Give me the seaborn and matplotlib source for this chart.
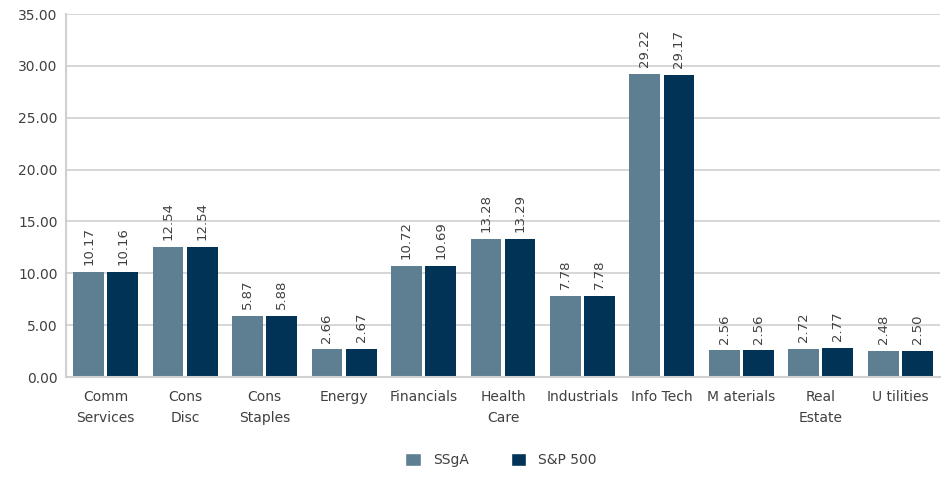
import matplotlib
matplotlib.use("Agg")
import matplotlib.pyplot as plt
import seaborn as sns
import pandas as pd
from matplotlib.patches import Patch

categories = ["Comm\nServices", "Cons\nDisc", "Cons\nStaples", "Energy", "Financials",
              "Health\nCare", "Industrials", "Info Tech", "M aterials", "Real\nEstate", "U tilities"]
ssga = [10.17, 12.54, 5.87, 2.66, 10.72, 13.28, 7.78, 29.22, 2.56, 2.72, 2.48]
sp500 = [10.16, 12.54, 5.88, 2.67, 10.69, 13.29, 7.78, 29.17, 2.56, 2.77, 2.50]
series = ["SSgA", "S&P 500"]
colors = ["#5E7F92", "#003356"]

df = pd.DataFrame({
    "cat": categories * 2,
    "val": ssga + sp500,
    "series": [series[0]] * len(categories) + [series[1]] * len(categories),
})

sns.set_style("white")
plt.rcParams["font.family"] = ["DejaVu Sans"]
txt = "#404040"

fig = plt.figure(figsize=(9.51, 4.84), dpi=100)
ax = fig.add_axes([0.0694, 0.221, 0.919, 0.750])
sns.barplot(data=df, x="cat", y="val", hue="series", palette=colors, width=0.86, gap=0.1,
            ax=ax, legend=False, saturation=1, edgecolor="none", linewidth=0)

for cont in ax.containers:
    ax.bar_label(cont, fmt="%.2f", rotation=90, padding=5, fontsize=9.5, color=txt)

ax.set_ylim(0, 35)
ax.set_yticks([0, 5, 10, 15, 20, 25, 30, 35])
ax.set_yticklabels([f"{v:.2f}" for v in ax.get_yticks()], fontsize=10, color=txt)
ax.set_xlim(-0.5, len(categories) - 0.5)
ax.tick_params(axis="x", labelsize=10, colors=txt, length=0, pad=9)
ax.tick_params(axis="y", length=0, pad=6)
for lbl in ax.get_xticklabels():
    lbl.set_linespacing(1.7)
ax.set_xlabel("")
ax.set_ylabel("")
ax.yaxis.grid(True, color="#D0D0D0", linewidth=1.2)
ax.set_axisbelow(True)
for s in ["left", "bottom"]:
    ax.spines[s].set_color("#D0D0D0")
    ax.spines[s].set_linewidth(1.5)
for s in ["top", "right"]:
    ax.spines[s].set_visible(False)

handles = [Patch(facecolor=c, label=l) for c, l in zip(colors, series)]
fig.legend(handles=handles, loc="center", bbox_to_anchor=(0.527, 0.05), ncol=2, frameon=False,
           fontsize=10, handlelength=1.1, handleheight=1.1, handletextpad=0.9,
           columnspacing=3, labelcolor=txt)

fig.savefig("out.png", dpi=100)
